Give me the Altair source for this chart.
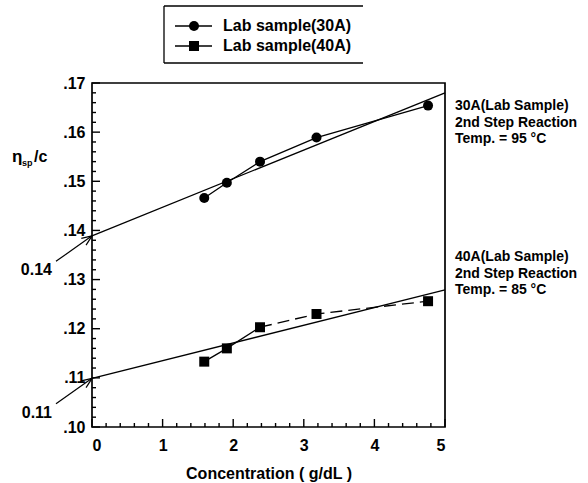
import altair as alt
import pandas as pd
import numpy as np

# ---------------- data ----------------
series = ["Lab sample(30A)", "Lab sample(40A)"]
conc = [1.59, 1.91, 2.38, 3.18, 4.76]
eta_30A = [0.1466, 0.1497, 0.1540, 0.1589, 0.1654]
eta_40A = [0.1133, 0.1160, 0.1203, 0.1230, 0.1256]
dash_start_40A = 2  # 40A connecting line is dashed from this point on

fit_x = [0.0, 5.0]
fit_30A = [0.1389, 0.1680]
fit_40A = [0.1099, 0.1279]
intercept_labels = ["0.14", "0.11"]

y_major = [0.10, 0.11, 0.12, 0.13, 0.14, 0.15, 0.16, 0.17]
x_major = [0, 1, 2, 3, 4, 5]

notes_30A = ["30A(Lab Sample)", "2nd Step Reaction", "Temp. = 95 °C"]
notes_40A = ["40A(Lab Sample)", "2nd Step Reaction", "Temp. = 85 °C"]

# ---------------- layout ----------------
W, H = 353, 344
FONT = "Liberation Sans"
XMIN, XMAX, YMIN, YMAX = 0, 5, 0.10, 0.17
px_x = W / (XMAX - XMIN)
px_y = H / (YMAX - YMIN)

xs = alt.Scale(domain=[XMIN, XMAX], nice=False, zero=False)
ys = alt.Scale(domain=[YMIN, YMAX], nice=False, zero=False)

x_axis = alt.Axis(values=x_major, format="d", ticks=False, domain=False, grid=False,
                  labelFont=FONT, labelFontSize=16, labelFontWeight="bold", labelColor="black",
                  labelPadding=10, title="Concentration ( g/dL )", titleFont=FONT,
                  titleFontSize=16, titleFontWeight="bold", titleColor="black", titlePadding=12)
y_axis = alt.Axis(values=y_major, labelExpr="replace(format(datum.value, '.2f'), '0.', '.')",
                  ticks=False, domain=False, grid=False, labelFont=FONT, labelFontSize=16,
                  labelFontWeight="bold", labelColor="black", labelPadding=7, title=None)


def X(f):
    return alt.X(f, type="quantitative", scale=xs, axis=x_axis)


def Y(f):
    return alt.Y(f, type="quantitative", scale=ys, axis=y_axis)


pts = pd.DataFrame({
    "conc": conc + conc,
    "eta": eta_30A + eta_40A,
    "series": [series[0]] * len(conc) + [series[1]] * len(conc),
})
fit = pd.DataFrame({
    "conc": fit_x + fit_x,
    "eta": fit_30A + fit_40A,
    "series": [series[0]] * 2 + [series[1]] * 2,
})

LW = 1.3
layers = []

# fitted straight lines
layers.append(alt.Chart(fit).mark_line(color="black", strokeWidth=LW).encode(
    x=X("conc"), y=Y("eta"), detail="series:N"))

# connecting lines
layers.append(alt.Chart(pd.DataFrame({"conc": conc, "eta": eta_30A})).mark_line(
    color="black", strokeWidth=LW).encode(x=X("conc"), y=Y("eta")))
layers.append(alt.Chart(pd.DataFrame({"conc": conc[:dash_start_40A + 1],
                                      "eta": eta_40A[:dash_start_40A + 1]})).mark_line(
    color="black", strokeWidth=LW).encode(x=X("conc"), y=Y("eta")))
layers.append(alt.Chart(pd.DataFrame({"conc": conc[dash_start_40A:],
                                      "eta": eta_40A[dash_start_40A:]})).mark_line(
    color="black", strokeWidth=LW, strokeDash=[12, 6]).encode(x=X("conc"), y=Y("eta")))

# markers
layers.append(alt.Chart(pts).mark_point(filled=True, color="black", opacity=1, size=100).encode(
    x=X("conc"), y=Y("eta"),
    shape=alt.Shape("series:N", scale=alt.Scale(domain=series, range=["circle", "square"]),
                    legend=None)))

# inward ticks (major + minor)
y_minor = [v for v in np.round(np.arange(YMIN, YMAX + 1e-9, 0.002), 3) if round(v * 100, 6) % 1 != 0]
x_minor = [v for v in np.round(np.arange(XMIN, XMAX + 1e-9, 0.2), 2) if abs(v - round(v)) > 1e-9]
for vals, ln in ((y_major, 8), (y_minor, 4)):
    layers.append(alt.Chart(pd.DataFrame({"v": vals})).mark_rule(color="black", strokeWidth=1.4).encode(
        y=Y("v"), x=alt.value(0), x2=alt.value(ln)))
for vals, ln in ((x_major, 8), (x_minor, 4)):
    layers.append(alt.Chart(pd.DataFrame({"v": vals})).mark_rule(color="black", strokeWidth=1.4).encode(
        x=X("v"), y=alt.value(H), y2=alt.value(H - ln)))

# intercept arrows
tail_dx, tail_dy = -36, 25.5  # pixel offset of arrow tail from its tip
head_len, head_ang = 11, np.deg2rad(22)
for icpt, lab in zip([fit_30A[0], fit_40A[0]], intercept_labels):
    tx, ty = 0.0, icpt
    segs = [(tail_dx, tail_dy)]
    for s in (+1, -1):
        a = np.arctan2(tail_dy, tail_dx) + s * head_ang
        segs.append((head_len * np.cos(a), head_len * np.sin(a)))
    for dx, dy in segs:
        layers.append(alt.Chart(pd.DataFrame({"a": [0]})).mark_rule(color="black", strokeWidth=1.2).encode(
            x=alt.X("x1:Q", scale=xs, axis=x_axis), y=alt.Y("y1:Q", scale=ys, axis=y_axis),
            x2="x2:Q", y2="y2:Q").transform_calculate(
            x1=f"{tx}", y1=f"{ty}", x2=f"{tx + dx / px_x}", y2=f"{ty - dy / px_y}"))
    layers.append(alt.Chart(pd.DataFrame({"t": [lab]})).mark_text(
        font=FONT, fontSize=16, fontWeight="bold", align="right", baseline="middle", color="black").encode(
        text="t:N", x=alt.value(tail_dx - 4),
        y=alt.value((YMAX - icpt) * px_y + tail_dy + 9)))

# y-axis title eta_sp/c
for txt, dx, dy, fs in (("η", -80, 74, 17), ("sp", -70, 80, 9), ("/c", -58, 74, 16)):
    layers.append(alt.Chart(pd.DataFrame({"t": [txt]})).mark_text(
        font=FONT, fontSize=fs, fontWeight="bold", align="left", baseline="middle", color="black").encode(
        text="t:N", x=alt.value(dx), y=alt.value(dy)))

# right-hand notes
for lines, y0 in ((notes_30A, 23), (notes_40A, 174)):
    for i, t in enumerate(lines):
        layers.append(alt.Chart(pd.DataFrame({"t": [t]})).mark_text(
            font=FONT, fontSize=14, fontWeight="bold", align="left", baseline="middle", color="black").encode(
            text="t:N", x=alt.value(W + 10), y=alt.value(y0 + i * 16.5)))

# legend box
LX0, LX1, LY0, LY1 = 72, 271, -77, -20
box = pd.DataFrame({"a": [0]})
layers.append(alt.Chart(box).mark_rule(color="black", strokeWidth=1.3).encode(
    x=alt.value(LX0), y=alt.value(LY0), y2=alt.value(LY1)))
layers.append(alt.Chart(box).mark_rule(color="black", strokeWidth=1.3).encode(
    x=alt.value(LX0), x2=alt.value(LX1), y=alt.value(LY0)))
layers.append(alt.Chart(box).mark_rule(color="black", strokeWidth=1.3).encode(
    x=alt.value(LX0), x2=alt.value(LX1), y=alt.value(LY1)))
for lab, shp, yy in zip(series, ["circle", "square"], [-57, -37]):
    d = pd.DataFrame({"t": [lab]})
    layers.append(alt.Chart(d).mark_rule(color="black", strokeWidth=LW).encode(
        x=alt.value(83), x2=alt.value(120), y=alt.value(yy)))
    layers.append(alt.Chart(d).mark_point(shape=shp, filled=True, color="black", opacity=1, size=100).encode(
        x=alt.value(102), y=alt.value(yy)))
    layers.append(alt.Chart(d).mark_text(
        font=FONT, fontSize=16, fontWeight="bold", align="left", baseline="middle", color="black").encode(
        text="t:N", x=alt.value(131), y=alt.value(yy)))

chart = alt.layer(*layers).properties(
    width=W, height=H,
    autosize=alt.AutoSizeParams(type="none"),
    padding={"left": 92, "top": 83, "right": 143, "bottom": 56},
    background="white",
).configure_view(stroke="black", strokeWidth=1.7)

chart.save("out.html", embed_options={"renderer": "svg", "actions": False})
